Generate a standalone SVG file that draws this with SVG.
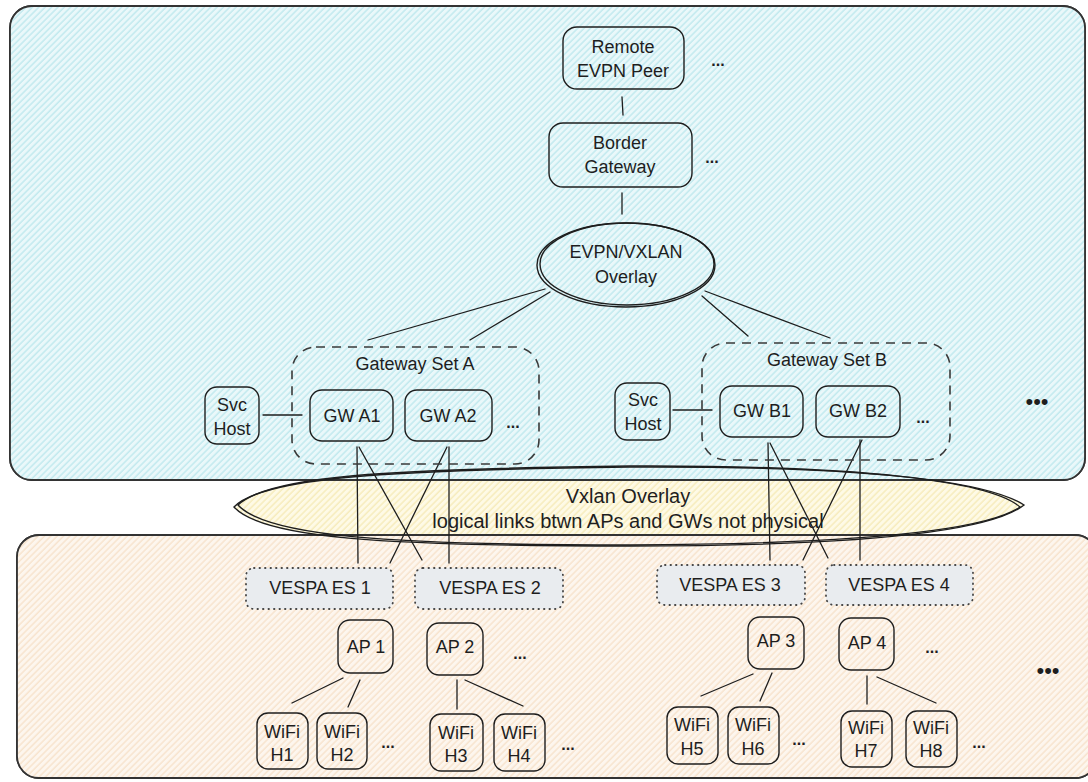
<svg xmlns="http://www.w3.org/2000/svg" width="1088" height="782" viewBox="0 0 1088 782">
  <defs>
    <pattern id="hatchCyan" width="4.5" height="4.5" patternUnits="userSpaceOnUse" patternTransform="rotate(45)">
      <rect width="4.5" height="4.5" fill="#eaf8fa"/>
      <line x1="1" y1="0" x2="1" y2="4.5" stroke="#b3e4ea" stroke-width="1.1"/>
    </pattern>
    <pattern id="hatchPeach" width="4.5" height="4.5" patternUnits="userSpaceOnUse" patternTransform="rotate(45)">
      <rect width="4.5" height="4.5" fill="#fdf6ee"/>
      <line x1="1" y1="0" x2="1" y2="4.5" stroke="#f5ddc2" stroke-width="1.1"/>
    </pattern>
    <pattern id="hatchYellow" width="4.5" height="4.5" patternUnits="userSpaceOnUse" patternTransform="rotate(45)">
      <rect width="4.5" height="4.5" fill="#fefae6"/>
      <line x1="1" y1="0" x2="1" y2="4.5" stroke="#f4e7ad" stroke-width="1.1"/>
    </pattern>
    <style>
      text { font-family: "Liberation Sans", Arial, sans-serif; font-size: 18px; fill: #1e1e1e; }
      .mid { text-anchor: middle; }
      .big { font-size: 19px; }
      .wide { font-size: 20px; }
      .dots { font-weight: bold; font-size: 16px; text-anchor: middle; }
      .bullets { font-size: 22px; text-anchor: middle; }
      .region { stroke: #333333; stroke-width: 1.8; }
      .outline { fill: none; stroke: #333333; stroke-width: 1.8; }
      .node { fill: none; stroke: #1e1e1e; stroke-width: 1.4; }
      .set { fill: none; stroke: #3a3a3a; stroke-width: 1.6; stroke-dasharray: 9 7; }
      .es { fill: #e9ecef; stroke: #444; stroke-width: 1.8; stroke-dasharray: 0.5 5; stroke-linecap: round; }
      .conn { fill: none; stroke: #1e1e1e; stroke-width: 1.3; stroke-linecap: round; }
    </style>
  </defs>

  <rect width="1088" height="782" fill="#ffffff"/>

  <!-- zones -->
  <g id="zone-evpn">
    <rect id="zoneTop" class="region" x="10" y="6" width="1075" height="474" rx="22" fill="url(#hatchCyan)"/>
    <text x="16" y="251">EVPN Peering</text>
  </g>
  <g id="zone-dataplane">
    <rect id="zoneBottom" class="region" x="17" y="535" width="1080" height="243" rx="22" fill="url(#hatchPeach)"/>
    <text x="22" y="656">Dataplane Learning</text>
    <text x="22" y="678">(No EVPN)</text>
  </g>

  <!-- vxlan overlay band between the zones -->
  <g id="vxlan-overlay">
    <path id="lens" d="M234,507 C262,478 380,470 629,467 C860,466 985,480 1024,505 C990,532 860,546 629,546 C380,546 262,538 234,507 Z" fill="url(#hatchYellow)" stroke="none"/>
    <use href="#zoneTop" class="outline" fill="none"/>
    <use href="#zoneBottom" class="outline" fill="none"/>
    <path class="node" stroke-width="1.5" d="M234,507 C262,478 380,470 629,467 C860,466 985,480 1024,505 C990,532 860,546 629,546 C380,546 262,538 234,507 Z"/>
    <path class="node" stroke-width="0.8" d="M238,505 C268,476 385,469 630,466 C862,465 990,481 1020,507 C985,531 858,544 630,545 C385,545 266,536 238,505 Z"/>
    <text class="mid wide" x="628" y="503">Vxlan Overlay</text>
    <text class="mid wide" x="628" y="528">logical links btwn APs and GWs not physical</text>
  </g>

  <!-- connectors -->
  <g id="connectors">
    <line class="conn" x1="622" y1="97" x2="623" y2="115"/>
    <line class="conn" x1="622" y1="193" x2="622" y2="214"/>
    <line class="conn" x1="545" y1="289" x2="368" y2="340"/>
    <line class="conn" x1="550" y1="292" x2="470" y2="340"/>
    <line class="conn" x1="702" y1="296" x2="748" y2="336"/>
    <line class="conn" x1="705" y1="291" x2="830" y2="338"/>
    <line class="conn" x1="263" y1="415" x2="302" y2="415"/>
    <line class="conn" x1="673" y1="410" x2="712" y2="410"/>
    <!-- gateways to ethernet segments -->
    <line class="conn" x1="357" y1="447" x2="358" y2="563"/>
    <line class="conn" x1="359" y1="447" x2="422" y2="560"/>
    <line class="conn" x1="449" y1="447" x2="449" y2="563"/>
    <line class="conn" x1="447" y1="447" x2="390" y2="563"/>
    <line class="conn" x1="768" y1="443" x2="770" y2="560"/>
    <line class="conn" x1="770" y1="443" x2="828" y2="558"/>
    <line class="conn" x1="860" y1="440" x2="860" y2="560"/>
    <line class="conn" x1="862" y1="440" x2="803" y2="560"/>
    <!-- access points to wifi hosts -->
    <line class="conn" x1="343" y1="678" x2="292" y2="703"/>
    <line class="conn" x1="360" y1="680" x2="348" y2="707"/>
    <line class="conn" x1="457" y1="680" x2="457" y2="709"/>
    <line class="conn" x1="465" y1="680" x2="523" y2="706"/>
    <line class="conn" x1="753" y1="674" x2="701" y2="696"/>
    <line class="conn" x1="772" y1="673" x2="760" y2="701"/>
    <line class="conn" x1="867" y1="676" x2="867" y2="704"/>
    <line class="conn" x1="877" y1="677" x2="936" y2="703"/>
  </g>

  <!-- control plane -->
  <g id="remote-evpn-peer">
    <rect class="node" x="563" y="27" width="121" height="62" rx="14"/>
    <text class="mid" x="623" y="53">Remote</text>
    <text class="mid" x="623" y="77">EVPN Peer</text>
    <text class="dots" x="718" y="66">...</text>
  </g>
  <g id="border-gateway">
    <rect class="node" x="549" y="123" width="143" height="64" rx="14"/>
    <text class="mid" x="620" y="149">Border</text>
    <text class="mid" x="620" y="173">Gateway</text>
    <text class="dots" x="712" y="163">...</text>
  </g>
  <g id="evpn-vxlan-overlay">
    <ellipse class="node" cx="626" cy="265" rx="89" ry="42"/>
    <ellipse class="node" cx="627" cy="264" rx="87" ry="41" stroke-width="0.8"/>
    <text class="mid" x="626" y="258">EVPN/VXLAN</text>
    <text class="mid" x="626" y="283">Overlay</text>
  </g>

  <!-- gateway set A -->
  <g id="gateway-set-a">
    <rect class="set" x="292" y="347" width="247" height="117" rx="24"/>
    <text class="mid" x="415" y="370">Gateway Set A</text>
  </g>
  <g id="svc-host-a">
    <rect class="node" x="205" y="387" width="54" height="57" rx="12"/>
    <text class="mid" x="232" y="411">Svc</text>
    <text class="mid" x="232" y="435">Host</text>
  </g>
  <g id="gw-a1">
    <rect class="node" x="310" y="390" width="83" height="51" rx="12"/>
    <text class="mid" x="352" y="422">GW  A1</text>
  </g>
  <g id="gw-a2">
    <rect class="node" x="405" y="390" width="87" height="51" rx="12"/>
    <text class="mid" x="448" y="422">GW  A2</text>
    <text class="dots" x="513" y="428">...</text>
  </g>

  <!-- gateway set B -->
  <g id="gateway-set-b">
    <rect class="set" x="702" y="343" width="248" height="117" rx="24"/>
    <text class="mid" x="827" y="366">Gateway Set B</text>
  </g>
  <g id="svc-host-b">
    <rect class="node" x="615" y="383" width="55" height="57" rx="12"/>
    <text class="mid" x="643" y="406">Svc</text>
    <text class="mid" x="643" y="430">Host</text>
  </g>
  <g id="gw-b1">
    <rect class="node" x="720" y="386" width="83" height="51" rx="12"/>
    <text class="mid" x="762" y="417">GW  B1</text>
  </g>
  <g id="gw-b2">
    <rect class="node" x="816" y="386" width="84" height="51" rx="12"/>
    <text class="mid" x="858" y="417">GW  B2</text>
    <text class="dots" x="923" y="423">...</text>
  </g>
  <g id="more-gateways">
    <text class="bullets" x="1037" y="409">•••</text>
  </g>

  <!-- ethernet segments -->
  <g id="vespa-es-1">
    <rect class="es" x="246" y="568" width="147" height="41" rx="8"/>
    <text class="mid" x="320" y="594">VESPA ES 1</text>
  </g>
  <g id="vespa-es-2">
    <rect class="es" x="415" y="568" width="148" height="41" rx="8"/>
    <text class="mid" x="490" y="594">VESPA ES 2</text>
  </g>
  <g id="vespa-es-3">
    <rect class="es" x="657" y="565" width="148" height="40" rx="8"/>
    <text class="mid" x="730" y="591">VESPA ES 3</text>
  </g>
  <g id="vespa-es-4">
    <rect class="es" x="826" y="565" width="147" height="40" rx="8"/>
    <text class="mid" x="899" y="591">VESPA ES 4</text>
  </g>

  <!-- access points -->
  <g id="ap-1">
    <rect class="node" x="338" y="620" width="55" height="53" rx="12"/>
    <text class="mid" x="366" y="653">AP 1</text>
  </g>
  <g id="ap-2">
    <rect class="node" x="427" y="623" width="56" height="52" rx="12"/>
    <text class="mid" x="455" y="653">AP 2</text>
    <text class="dots" x="520" y="659">...</text>
  </g>
  <g id="ap-3">
    <rect class="node" x="748" y="617" width="56" height="52" rx="12"/>
    <text class="mid" x="776" y="647">AP 3</text>
  </g>
  <g id="ap-4">
    <rect class="node" x="839" y="618" width="55" height="52" rx="12"/>
    <text class="mid" x="867" y="649">AP 4</text>
    <text class="dots" x="932" y="653">...</text>
  </g>
  <g id="more-aps">
    <text class="bullets" x="1048" y="678">•••</text>
  </g>

  <!-- wifi hosts -->
  <g id="wifi-h1">
    <rect class="node" x="257" y="713" width="51" height="56" rx="11"/>
    <text class="mid" x="282" y="738">WiFi</text>
    <text class="mid" x="282" y="761">H1</text>
  </g>
  <g id="wifi-h2">
    <rect class="node" x="317" y="713" width="50" height="56" rx="11"/>
    <text class="mid" x="342" y="738">WiFi</text>
    <text class="mid" x="342" y="761">H2</text>
    <text class="dots" x="388" y="748">...</text>
  </g>
  <g id="wifi-h3">
    <rect class="node" x="430" y="714" width="53" height="57" rx="11"/>
    <text class="mid" x="456" y="739">WiFi</text>
    <text class="mid" x="456" y="762">H3</text>
  </g>
  <g id="wifi-h4">
    <rect class="node" x="494" y="714" width="51" height="57" rx="11"/>
    <text class="mid" x="519" y="739">WiFi</text>
    <text class="mid" x="519" y="762">H4</text>
    <text class="dots" x="568" y="750">...</text>
  </g>
  <g id="wifi-h5">
    <rect class="node" x="667" y="707" width="51" height="57" rx="11"/>
    <text class="mid" x="692" y="731">WiFi</text>
    <text class="mid" x="692" y="755">H5</text>
  </g>
  <g id="wifi-h6">
    <rect class="node" x="728" y="707" width="51" height="57" rx="11"/>
    <text class="mid" x="753" y="731">WiFi</text>
    <text class="mid" x="753" y="755">H6</text>
    <text class="dots" x="799" y="745">...</text>
  </g>
  <g id="wifi-h7">
    <rect class="node" x="841" y="711" width="51" height="56" rx="11"/>
    <text class="mid" x="866" y="734">WiFi</text>
    <text class="mid" x="866" y="757">H7</text>
  </g>
  <g id="wifi-h8">
    <rect class="node" x="906" y="711" width="51" height="56" rx="11"/>
    <text class="mid" x="931" y="734">WiFi</text>
    <text class="mid" x="931" y="757">H8</text>
    <text class="dots" x="979" y="748">...</text>
  </g>
</svg>
